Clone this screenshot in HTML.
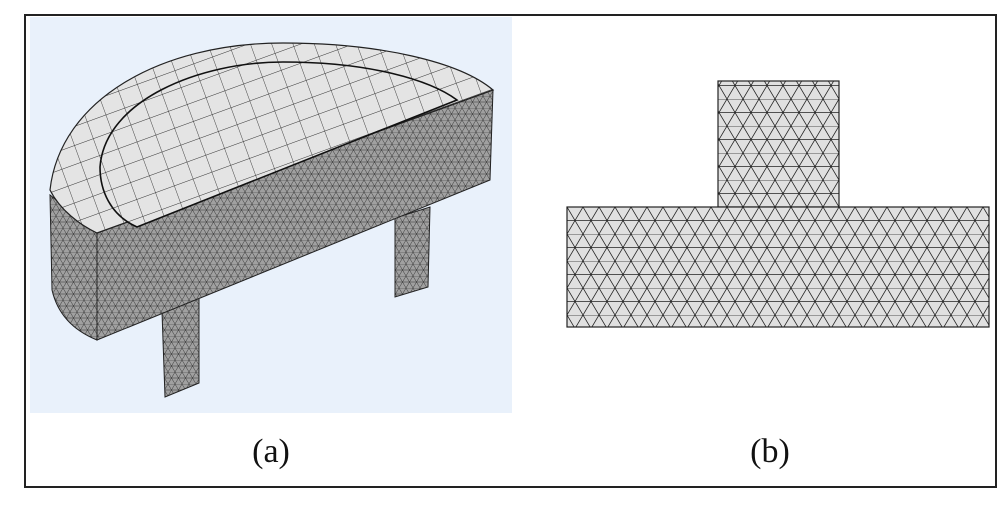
<!DOCTYPE html>
<html><head><meta charset="utf-8"><style>
html,body{margin:0;padding:0;background:#fff;}
svg{display:block;}
text{font-family:"Liberation Serif",serif;}
</style></head><body>
<svg width="1006" height="514" viewBox="0 0 1006 514">
<defs>
<pattern id="tri" width="16" height="27" patternUnits="userSpaceOnUse" x="567" y="207">
<rect width="16" height="27" fill="#e0e0e0"/>
<path d="M0 0H16M0 13.5H16M0 0L16 27M16 0L0 27" stroke="#222" stroke-width="0.8" fill="none"/>
</pattern>
<pattern id="trismall" width="7" height="12" patternUnits="userSpaceOnUse">
<rect width="7" height="12" fill="#a0a0a0"/>
<path d="M0 0H7M0 6H7M0 0L7 12M7 0L0 12" stroke="#333" stroke-width="0.5" fill="none"/>
</pattern>
<pattern id="grid" width="20" height="18" patternUnits="userSpaceOnUse" patternTransform="rotate(-20)">
<rect width="20" height="18" fill="#e4e4e4"/>
<path d="M0 0H20M0 0V18" stroke="#333" stroke-width="0.9" fill="none"/>
</pattern>
</defs>

<rect x="25" y="15" width="971" height="472" fill="#fff" stroke="#222" stroke-width="2"/>

<g>
<rect x="30" y="17" width="482" height="396" fill="#e9f1fb"/>
<polygon points="162,312 199,298 199,383 165,397" fill="url(#trismall)" stroke="#222" stroke-width="1"/>
<polygon points="395,218 430,207 428,287 395,297" fill="url(#trismall)" stroke="#222" stroke-width="1"/>
<path d="M50,195 L52,290 Q60,325 97,340 L97,233 Z" fill="url(#trismall)" stroke="#222" stroke-width="1"/>
<polygon points="97,233 493,90 490,180 97,340" fill="url(#trismall)" stroke="#222" stroke-width="1"/>
<path d="M97,233 L493,90 C460,62 380,43 283,43 C160,43 60,100 50,190 C60,210 80,225 97,233 Z" fill="url(#grid)" stroke="#222" stroke-width="1.2"/>
<path d="M137,227 L457,100 C430,80 370,62 283,62 C200,62 105,100 100,167 C100,190 110,215 137,227 Z" fill="url(#grid)" stroke="#111" stroke-width="1.6"/>
<text x="271" y="462" font-size="34" text-anchor="middle" fill="#111">(a)</text>
</g>

<g>
<rect x="718" y="81" width="121" height="126" fill="url(#tri)" stroke="#222" stroke-width="1.2"/>
<rect x="567" y="207" width="422" height="120" fill="url(#tri)" stroke="#222" stroke-width="1.2"/>
<text x="770" y="462" font-size="34" text-anchor="middle" fill="#111">(b)</text>
</g>
</svg>
</body></html>
